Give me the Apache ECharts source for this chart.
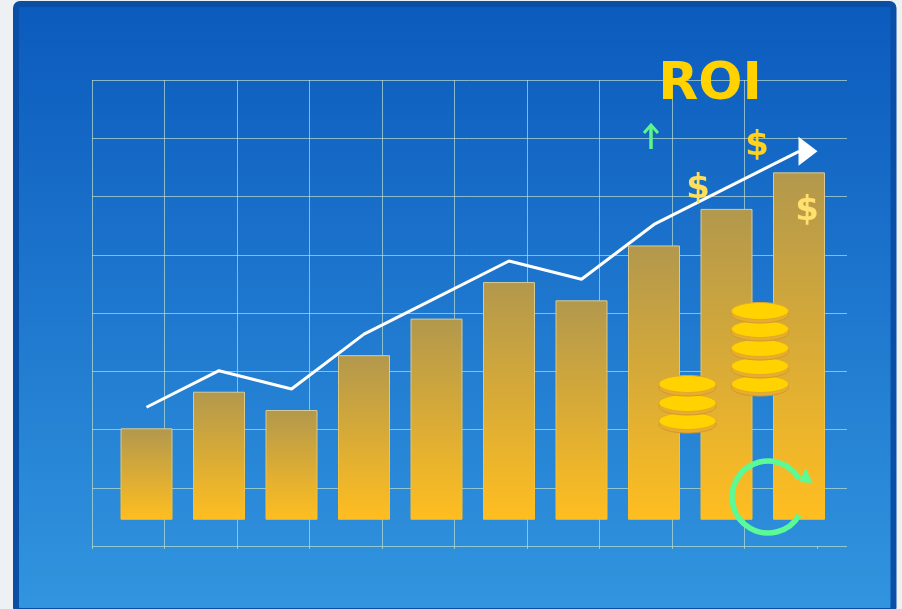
<!DOCTYPE html>
<html>
<head>
<meta charset="utf-8">
<style>html,body{margin:0;padding:0;background:#eef1f4}#c{width:902px;height:609px}</style>
<script src="https://cdn.jsdelivr.net/npm/echarts@6/dist/echarts.min.js"></script>
</head>
<body>
<div id="c"></div>
<script>
const categories = ['1','2','3','4','5','6','7','8','9','10'];
const barValues = [20,28,24,36,44,52,48,60,68,76];
const lineValues = [24.6,32.6,28.6,40.6,48.6,56.6,52.6,64.6,72.6,80.6];
const gridLine = 'rgba(190,225,205,0.68)';
const font = '"DejaVu Sans"';

const coinRows = [
  {cx:687.5, ys:[421,403,384]},
  {cx:760, ys:[384,366,348,329,311]}
];
const coins = [];
coinRows.forEach(r => r.ys.forEach(y => {
  coins.push({type:'ellipse',z:60,shape:{cx:r.cx,cy:y+3.5,rx:28.5,ry:8.5},style:{fill:'#e8ad2e',stroke:'#cf9a2a',lineWidth:1}});
  coins.push({type:'ellipse',z:60,shape:{cx:r.cx,cy:y,rx:28.5,ry:8.5},style:{fill:'#ffd200',stroke:'#e0aa2c',lineWidth:1}});
}));
const txt = (t,x,y,size,fill) => ({type:'text',z:70,x,y,style:{text:t,fontFamily:font,fontWeight:'bold',fontSize:size,fill,align:'center',verticalAlign:'middle'}});

const option = {
  animation:false,
  backgroundColor:'#eef1f4',
  grid:[
    {left:92,top:80,width:755,height:466},
    {left:110.25,top:80,width:725,height:466}
  ],
  xAxis:[
    {type:'value',gridIndex:0,min:0,max:755/72.5,interval:1,
     axisLabel:{show:false},
     axisLine:{show:false},
     axisTick:{show:true,length:3,inside:false,customValues:[0,1,2,3,4,5,6,7,8,9,10],lineStyle:{color:gridLine}},
     splitLine:{show:true,showMaxLine:false,lineStyle:{color:gridLine,width:1}}},
    {type:'category',gridIndex:1,data:categories,show:false}
  ],
  yAxis:[
    {type:'value',gridIndex:0,min:0,max:8,interval:1,
     axisLabel:{show:false},axisLine:{show:false},axisTick:{show:false},
     splitLine:{show:true,lineStyle:{color:gridLine,width:1}}},
    {type:'value',gridIndex:1,min:-5.75,max:96.2,show:false,splitLine:{show:false}}
  ],
  series:[
    {type:'bar',xAxisIndex:1,yAxisIndex:1,data:barValues,barWidth:52,z:3,
     itemStyle:{
       color:{type:'linear',x:0,y:0,x2:0,y2:1,colorStops:[{offset:0,color:'#b2984d'},{offset:1,color:'#ffbe20'}]},
       borderWidth:1,
       borderColor:{type:'linear',x:0,y:0,x2:0,y2:1,colorStops:[{offset:0,color:'#d4ca98'},{offset:1,color:'#ffbe20'}]}
     }},
    {type:'line',xAxisIndex:1,yAxisIndex:1,z:4,showSymbol:true,symbol:'none',
     lineStyle:{color:'#ffffff',width:3},
     data:lineValues.map((v,i)=> i===lineValues.length-1
       ? {value:v,symbol:'triangle',symbolSize:[29,19],symbolRotate:-90,symbolOffset:[9,0],itemStyle:{color:'#ffffff'}}
       : v)}
  ],
  graphic:[
    {type:'rect',z:-10,shape:{x:16,y:4,width:877.5,height:607,r:4},
     style:{stroke:'#0a4ea6',lineWidth:6,
       fill:{type:'linear',x:0,y:0,x2:0,y2:1,colorStops:[{offset:0,color:'#0b5abd'},{offset:1,color:'#3295df'}]}}},
    ...coins,
    txt('ROI',710,85,52,'#ffd200'),
    txt('$',757,146,34,'#ffd21e'),
    txt('$',698,189,34,'#ffdf5a'),
    txt('$',807,211,34,'#ffe06e'),
    {type:'polyline',z:70,shape:{points:[[651,149],[651,126]]},style:{stroke:'#5cf58a',lineWidth:3.5,fill:null}},
    {type:'polyline',z:70,shape:{points:[[644,133],[651,125],[658,133]]},style:{stroke:'#5cf58a',lineWidth:3,fill:null}},
    {type:'arc',z:70,shape:{cx:768,cy:497,r:36,startAngle:Math.PI*30/180,endAngle:Math.PI*330/180,clockwise:true},style:{stroke:'#5cfa96',lineWidth:5.5,fill:null}},
    {type:'polygon',z:70,shape:{points:[[805.7,468],[812.5,483],[799,482]]},style:{fill:'#5cfa96'}}
  ]
};
echarts.init(document.getElementById('c')).setOption(option);
</script>
</body>
</html>
